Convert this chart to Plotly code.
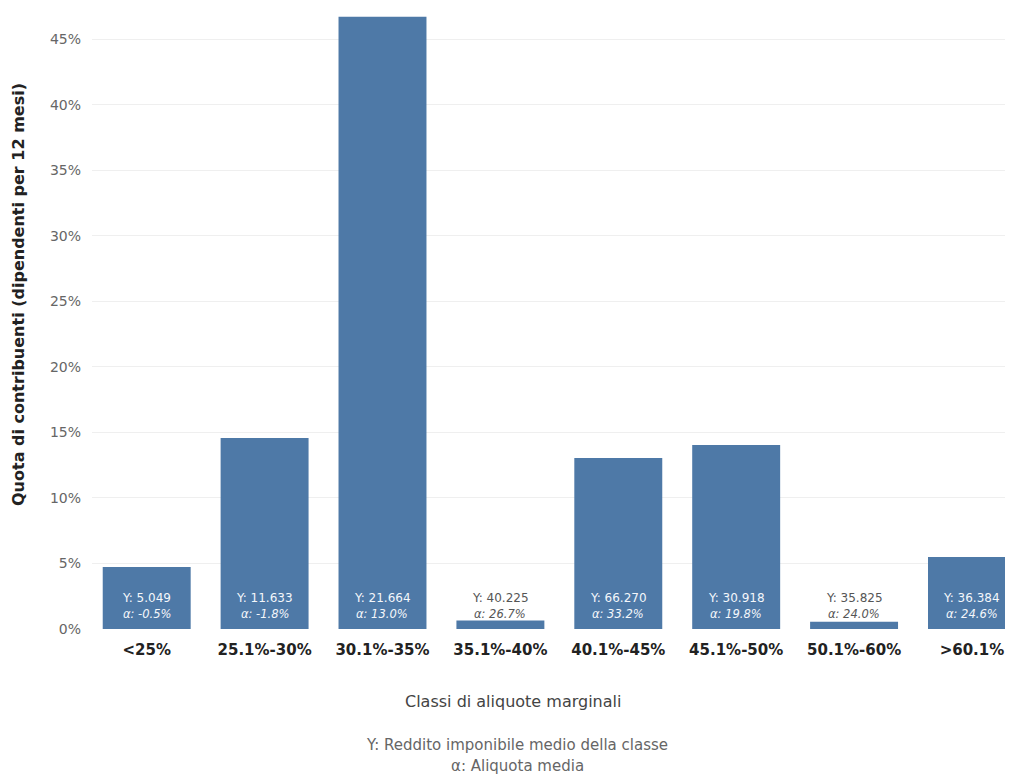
import plotly.graph_objects as go

categories = ["<25%", "25.1%-30%", "30.1%-35%", "35.1%-40%", "40.1%-45%", "45.1%-50%", "50.1%-60%", ">60.1%"]
share_pct = [4.73, 14.57, 46.7, 0.65, 13.04, 14.03, 0.55, 5.49]
income_label = ["5.049", "11.633", "21.664", "40.225", "66.270", "30.918", "35.825", "36.384"]
avg_rate_label = ["-0.5%", "-1.8%", "13.0%", "26.7%", "33.2%", "19.8%", "24.0%", "24.6%"]
y_ticks = [0, 5, 10, 15, 20, 25, 30, 35, 40, 45]
y_tick_text = [f"{v}%" for v in y_ticks]

BAR = "#4e79a7"
FONT = "DejaVu Sans"

# figure is drawn at an 8px page offset (default body margin), so size it to fit the window
W, H = 1005, 769
ML, MB = 84, 148
PLOT_H = H - MB


def paper_y(page_y):
    return (PLOT_H - (page_y - 8)) / PLOT_H


def paper_x(page_x):
    return (page_x - 8 - ML) / (W - ML)


fig = go.Figure()
fig.add_trace(go.Bar(
    x=list(range(len(categories))), y=share_pct,
    marker=dict(color=BAR, line=dict(width=0)),
    width=0.746, hoverinfo="skip",
))

annotations = []
for i, (v, inc, rate) in enumerate(zip(share_pct, income_label, avg_rate_label)):
    col = "#f4f7fb" if v > 3 else "#555555"
    annotations.append(dict(x=i, y=0, xref="x", yref="y", text=f"Y: {inc}",
                            showarrow=False, yanchor="middle", yshift=31,
                            font=dict(family=FONT, size=12, color=col)))
    annotations.append(dict(x=i, y=0, xref="x", yref="y", text=f"<i>α: {rate}</i>",
                            showarrow=False, yanchor="middle", yshift=15,
                            font=dict(family=FONT, size=11.5, color=col)))

annotations.append(dict(x=paper_x(18), y=paper_y(295), xref="paper", yref="paper",
                        xanchor="center", yanchor="middle", showarrow=False, textangle=-90,
                        text="<b>Quota di contribuenti (dipendenti per 12 mesi)</b>",
                        font=dict(family=FONT, size=16, color="#222222")))
annotations.append(dict(x=paper_x(513), y=paper_y(701), xref="paper", yref="paper",
                        xanchor="center", yanchor="middle", showarrow=False,
                        text="Classi di aliquote marginali",
                        font=dict(family=FONT, size=16, color="#444444")))
annotations.append(dict(x=paper_x(517), y=paper_y(745), xref="paper", yref="paper",
                        xanchor="center", yanchor="middle", showarrow=False,
                        text="Y: Reddito imponibile medio della classe",
                        font=dict(family=FONT, size=15, color="#666666")))
annotations.append(dict(x=paper_x(517), y=paper_y(766), xref="paper", yref="paper",
                        xanchor="center", yanchor="middle", showarrow=False,
                        text="α: Aliquota media",
                        font=dict(family=FONT, size=15, color="#666666")))

fig.update_layout(
    width=W, height=H,
    margin=dict(l=ML, r=0, t=0, b=MB),
    paper_bgcolor="white", plot_bgcolor="white",
    showlegend=False,
    annotations=annotations,
    xaxis=dict(
        tickmode="array", tickvals=list(range(len(categories))), ticktext=categories,
        range=[-0.464, 7.348], showgrid=False, zeroline=False, showline=False,
        ticks="", ticklabelstandoff=10,
        tickfont=dict(family=FONT, size=15, color="#222222", weight="bold"),
    ),
    yaxis=dict(
        range=[0, 47.37], tickmode="array", tickvals=y_ticks, ticktext=y_tick_text,
        showgrid=True, gridcolor="#efefef", gridwidth=1,
        zeroline=False, showline=False, ticks="",
        tickfont=dict(family=FONT, size=14, color="#666666"),
        ticklabelstandoff=10,
    ),
)

fig.write_html("out.html")
